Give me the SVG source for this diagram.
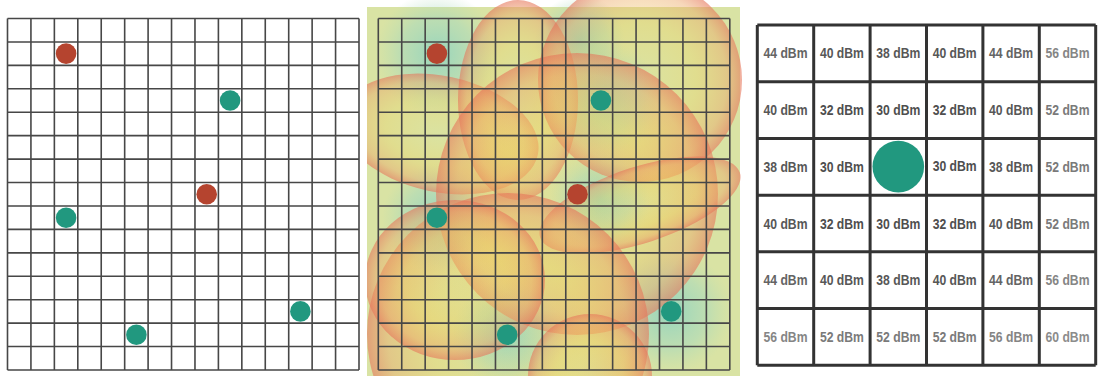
<svg xmlns="http://www.w3.org/2000/svg" xmlns:xlink="http://www.w3.org/1999/xlink" width="1101" height="376" viewBox="0 0 1101 376">
<style>
.g{fill:none;stroke:#474747;stroke-width:1.6}
.gr{fill:none;stroke:#333;stroke-width:3}
.red{fill:#b5442f}
.teal{fill:#21987f}
.lbl{font-family:"Liberation Sans",Arial,sans-serif;font-weight:bold;font-size:15px;text-anchor:middle}
.c1{fill:#4e4e4e}.c2{fill:#575757}.c3{fill:#646464}.c4{fill:#7a7a7a}.c5{fill:#858585}.c6{fill:#8c8c8c}
.lobe{fill:url(#lobe)}
.halo{fill:url(#halo)}
</style>
<defs>
<path id="grid" d="M0 0V351.5M23.43 0V351.5M46.87 0V351.5M70.3 0V351.5M93.73 0V351.5M117.17 0V351.5M140.6 0V351.5M164.03 0V351.5M187.47 0V351.5M210.9 0V351.5M234.33 0V351.5M257.77 0V351.5M281.2 0V351.5M304.63 0V351.5M328.07 0V351.5M351.5 0V351.5M0 0H351.5M0 23.43H351.5M0 46.87H351.5M0 70.3H351.5M0 93.73H351.5M0 117.17H351.5M0 140.6H351.5M0 164.03H351.5M0 187.47H351.5M0 210.9H351.5M0 234.33H351.5M0 257.77H351.5M0 281.2H351.5M0 304.63H351.5M0 328.07H351.5M0 351.5H351.5"/>
<radialGradient id="lobe" cx="0.5" cy="0.5" r="0.5">
<stop offset="0" stop-color="#f2d96e" stop-opacity="0.05"/>
<stop offset="0.55" stop-color="#f0d060" stop-opacity="0.32"/>
<stop offset="0.85" stop-color="#eca766" stop-opacity="0.45"/>
<stop offset="1" stop-color="#e6745a" stop-opacity="0.6"/>
</radialGradient>
<radialGradient id="halo" cx="0.5" cy="0.5" r="0.5">
<stop offset="0" stop-color="#8fd3bf" stop-opacity="0.9"/>
<stop offset="0.6" stop-color="#a2d8bf" stop-opacity="0.5"/>
<stop offset="1" stop-color="#b4dcb4" stop-opacity="0"/>
</radialGradient>
<clipPath id="midclip"><rect x="367" y="0" width="378" height="376"/></clipPath>
</defs>

<g id="panel-left">
<use xlink:href="#grid" x="7.5" y="18.5" class="g"/>
<g id="l-red-1"><circle class="red" cx="66.1" cy="53.6" r="10.3"/></g>
<g id="l-teal-1"><circle class="teal" cx="230.1" cy="100.5" r="10.3"/></g>
<g id="l-red-2"><circle class="red" cx="206.7" cy="194.2" r="10.3"/></g>
<g id="l-teal-2"><circle class="teal" cx="66.1" cy="217.7" r="10.3"/></g>
<g id="l-teal-3"><circle class="teal" cx="300.4" cy="311.4" r="10.3"/></g>
<g id="l-teal-4"><circle class="teal" cx="136.4" cy="334.8" r="10.3"/></g>
</g>

<g id="panel-middle">
<g id="heatmap" clip-path="url(#midclip)">
<rect x="367" y="7" width="373" height="369" fill="#d9e3a4"/>
<circle class="halo" cx="437" cy="54" r="62"/>
<circle class="halo" cx="600" cy="100" r="60"/>
<circle class="halo" cx="580" cy="40" r="45"/>
<circle class="halo" cx="437" cy="218" r="55"/>
<circle class="halo" cx="507" cy="335" r="55"/>
<circle class="halo" cx="670" cy="312" r="62"/>
<circle class="halo" cx="600" cy="200" r="50"/>
<ellipse class="lobe" cx="440" cy="134" rx="100" ry="58" transform="rotate(12 440 134)"/>
<ellipse class="lobe" cx="518" cy="100" rx="60" ry="100"/>
<circle class="lobe" cx="640" cy="80" r="102"/>
<circle class="lobe" cx="577" cy="194" r="141"/>
<ellipse class="lobe" cx="640" cy="205" rx="105" ry="38" transform="rotate(-18 640 205)"/>
<circle class="lobe" cx="508" cy="334" r="141"/>
<ellipse class="lobe" cx="455" cy="280" rx="90" ry="80"/>
<circle class="lobe" cx="590" cy="376" r="62"/>
</g>
<use xlink:href="#grid" x="378.3" y="18.5" class="g"/>
<g id="m-red-1"><circle class="red" cx="436.9" cy="53.6" r="10.3"/></g>
<g id="m-teal-1"><circle class="teal" cx="600.9" cy="100.5" r="10.3"/></g>
<g id="m-red-2"><circle class="red" cx="577.5" cy="194.2" r="10.3"/></g>
<g id="m-teal-2"><circle class="teal" cx="436.9" cy="217.7" r="10.3"/></g>
<g id="m-teal-3"><circle class="teal" cx="671.2" cy="311.4" r="10.3"/></g>
<g id="m-teal-4"><circle class="teal" cx="507.2" cy="334.8" r="10.3"/></g>
</g>

<g id="panel-right">
<path class="gr" d="M757.3 25V365.3M813.7 25V365.3M870.1 25V365.3M926.5 25V365.3M982.9 25V365.3M1039.3 25V365.3M1095.7 25V365.3M757.3 25H1095.7M757.3 81.72H1095.7M757.3 138.43H1095.7M757.3 195.15H1095.7M757.3 251.87H1095.7M757.3 308.58H1095.7M757.3 365.3H1095.7"/>
<g id="ap"><circle cx="898.3" cy="166.6" r="25.8" fill="#21987f"/></g>
<g id="labels" class="lbl">
<text x="785.5" y="58.4" class="c3" textLength="44" lengthAdjust="spacingAndGlyphs">44 dBm</text>
<text x="841.9" y="58.4" class="c2" textLength="44" lengthAdjust="spacingAndGlyphs">40 dBm</text>
<text x="898.3" y="58.4" class="c2" textLength="44" lengthAdjust="spacingAndGlyphs">38 dBm</text>
<text x="954.7" y="58.4" class="c2" textLength="44" lengthAdjust="spacingAndGlyphs">40 dBm</text>
<text x="1011.1" y="58.4" class="c3" textLength="44" lengthAdjust="spacingAndGlyphs">44 dBm</text>
<text x="1067.5" y="58.4" class="c5" textLength="44" lengthAdjust="spacingAndGlyphs">56 dBm</text>
<text x="785.5" y="115.1" class="c2" textLength="44" lengthAdjust="spacingAndGlyphs">40 dBm</text>
<text x="841.9" y="115.1" class="c1" textLength="44" lengthAdjust="spacingAndGlyphs">32 dBm</text>
<text x="898.3" y="115.1" class="c1" textLength="44" lengthAdjust="spacingAndGlyphs">30 dBm</text>
<text x="954.7" y="115.1" class="c1" textLength="44" lengthAdjust="spacingAndGlyphs">32 dBm</text>
<text x="1011.1" y="115.1" class="c2" textLength="44" lengthAdjust="spacingAndGlyphs">40 dBm</text>
<text x="1067.5" y="115.1" class="c4" textLength="44" lengthAdjust="spacingAndGlyphs">52 dBm</text>
<text x="785.5" y="171.8" class="c2" textLength="44" lengthAdjust="spacingAndGlyphs">38 dBm</text>
<text x="841.9" y="171.8" class="c1" textLength="44" lengthAdjust="spacingAndGlyphs">30 dBm</text>
<text x="954.7" y="170.5" class="c1" textLength="44" lengthAdjust="spacingAndGlyphs">30 dBm</text>
<text x="1011.1" y="171.8" class="c2" textLength="44" lengthAdjust="spacingAndGlyphs">38 dBm</text>
<text x="1067.5" y="171.8" class="c4" textLength="44" lengthAdjust="spacingAndGlyphs">52 dBm</text>
<text x="785.5" y="228.5" class="c2" textLength="44" lengthAdjust="spacingAndGlyphs">40 dBm</text>
<text x="841.9" y="228.5" class="c1" textLength="44" lengthAdjust="spacingAndGlyphs">32 dBm</text>
<text x="898.3" y="228.5" class="c1" textLength="44" lengthAdjust="spacingAndGlyphs">30 dBm</text>
<text x="954.7" y="228.5" class="c1" textLength="44" lengthAdjust="spacingAndGlyphs">32 dBm</text>
<text x="1011.1" y="228.5" class="c2" textLength="44" lengthAdjust="spacingAndGlyphs">40 dBm</text>
<text x="1067.5" y="228.5" class="c4" textLength="44" lengthAdjust="spacingAndGlyphs">52 dBm</text>
<text x="785.5" y="285.2" class="c3" textLength="44" lengthAdjust="spacingAndGlyphs">44 dBm</text>
<text x="841.9" y="285.2" class="c2" textLength="44" lengthAdjust="spacingAndGlyphs">40 dBm</text>
<text x="898.3" y="285.2" class="c2" textLength="44" lengthAdjust="spacingAndGlyphs">38 dBm</text>
<text x="954.7" y="285.2" class="c2" textLength="44" lengthAdjust="spacingAndGlyphs">40 dBm</text>
<text x="1011.1" y="285.2" class="c3" textLength="44" lengthAdjust="spacingAndGlyphs">44 dBm</text>
<text x="1067.5" y="285.2" class="c5" textLength="44" lengthAdjust="spacingAndGlyphs">56 dBm</text>
<text x="785.5" y="341.9" class="c5" textLength="44" lengthAdjust="spacingAndGlyphs">56 dBm</text>
<text x="841.9" y="341.9" class="c4" textLength="44" lengthAdjust="spacingAndGlyphs">52 dBm</text>
<text x="898.3" y="341.9" class="c4" textLength="44" lengthAdjust="spacingAndGlyphs">52 dBm</text>
<text x="954.7" y="341.9" class="c4" textLength="44" lengthAdjust="spacingAndGlyphs">52 dBm</text>
<text x="1011.1" y="341.9" class="c5" textLength="44" lengthAdjust="spacingAndGlyphs">56 dBm</text>
<text x="1067.5" y="341.9" class="c6" textLength="44" lengthAdjust="spacingAndGlyphs">60 dBm</text>
</g>
</g>
</svg>
